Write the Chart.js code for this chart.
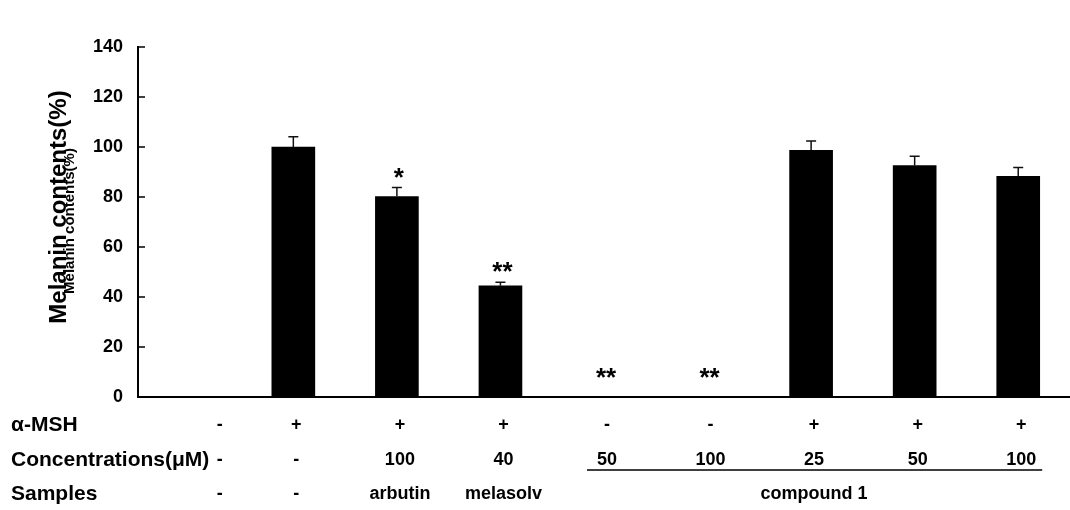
<!DOCTYPE html>
<html>
<head>
<meta charset="utf-8">
<script src="https://cdn.jsdelivr.net/npm/chart.js@4"></script>
<style>
  body { margin: 0; background: #fff; }
  #wrap { width: 1070px; height: 510px; position: relative; }
</style>
</head>
<body>
<div id="wrap"><canvas id="myChart"></canvas></div>
<script>
// data
const categories = ['ctrl', 'MSH', 'arbutin', 'melasolv', 'c1-50', 'c1-100', 'c1-25+', 'c1-50+', 'c1-100+'];
const melanin = [0, 100, 80.2, 44.5, 0, 0, 98.7, 92.6, 88.3];
const errors = [0, 4.1, 3.6, 1.4, 0, 0, 3.7, 3.7, 3.5];
const stars = ['', '', '*', '**', '**', '**', '', '', ''];
const yTicks = [0, 20, 40, 60, 80, 100, 120, 140];

// table rows under the chart
const mshRow = ['-', '+', '+', '+', '-', '-', '+', '+', '+'];
const concRow = ['-', '-', '100', '40', '50', '100', '25', '50', '100'];
const sampleRow = ['-', '-', 'arbutin', 'melasolv', '', '', 'compound 1', '', ''];

const FONT = '"Liberation Sans", Arial, sans-serif';

// error bars, stars, inner y ticks, titles and the table
const extras = {
  id: 'extras',
  afterDatasetsDraw(chart) {
    const ctx = chart.ctx;
    const y = chart.scales.y;
    const meta = chart.getDatasetMeta(0);
    ctx.save();
    ctx.strokeStyle = '#111';
    ctx.lineWidth = 1.5;
    meta.data.forEach((bar, i) => {
      if (!errors[i]) return;
      const top = y.getPixelForValue(melanin[i] + errors[i]);
      const base = y.getPixelForValue(melanin[i]);
      ctx.beginPath();
      ctx.moveTo(bar.x, base);
      ctx.lineTo(bar.x, top);
      ctx.moveTo(bar.x - 5, top);
      ctx.lineTo(bar.x + 5, top);
      ctx.stroke();
    });
    ctx.fillStyle = '#000';
    ctx.font = 'bold 26px ' + FONT;
    ctx.textAlign = 'center';
    ctx.textBaseline = 'middle';
    meta.data.forEach((bar, i) => {
      if (!stars[i]) return;
      const top = y.getPixelForValue(melanin[i] + errors[i]);
      const sy = Math.min(top - 9, y.getPixelForValue(0) - 18);
      ctx.fillText(stars[i], bar.x + 2, sy);
    });
    ctx.restore();
  },
  afterDraw(chart) {
    const ctx = chart.ctx;
    const x = chart.scales.x;
    const y = chart.scales.y;
    const area = chart.chartArea;
    ctx.save();
    // y ticks pointing inward
    ctx.strokeStyle = '#000';
    ctx.lineWidth = 1.5;
    yTicks.forEach(v => {
      const py = y.getPixelForValue(v);
      ctx.beginPath();
      ctx.moveTo(area.left, py);
      ctx.lineTo(area.left + 7, py);
      ctx.stroke();
    });

    // overlapping axis titles
    ctx.fillStyle = '#000';
    ctx.textAlign = 'center';
    ctx.textBaseline = 'middle';
    ctx.save();
    ctx.translate(59, 207);
    ctx.rotate(-Math.PI / 2);
    ctx.font = 'bold 24px ' + FONT;
    ctx.fillText('Melanin contents(%)', 0, 0);
    ctx.restore();
    ctx.save();
    ctx.translate(70, 221);
    ctx.rotate(-Math.PI / 2);
    ctx.font = 'bold 15px ' + FONT;
    ctx.fillText('Melanin contents(%)', 0, 0);
    ctx.restore();

    // table
    const colX = i => i === 0 ? x.getPixelForValue(0) + 30 : x.getPixelForValue(i) + 3;
    ctx.font = 'bold 21px ' + FONT;
    ctx.textAlign = 'left';
    ctx.fillText('\u03b1-MSH', 11, 425);
    ctx.fillText('Concentrations(\u03bcM)', 11, 460);
    ctx.fillText('Samples', 11, 494);
    ctx.font = 'bold 18px ' + FONT;
    ctx.textAlign = 'center';
    mshRow.forEach((t, i) => ctx.fillText(t, colX(i), 425));
    concRow.forEach((t, i) => ctx.fillText(t, colX(i), 460));
    sampleRow.forEach((t, i) => { if (t) ctx.fillText(t, colX(i), 494); });
    ctx.lineWidth = 1.5;
    ctx.beginPath();
    ctx.moveTo(x.getPixelForValue(4) - 17, 470);
    ctx.lineTo(x.getPixelForValue(8) + 24, 470);
    ctx.stroke();
    ctx.restore();
  }
};

const ctx = document.getElementById('myChart').getContext('2d');

const myChart = new Chart(ctx, {
  type: 'bar',
  data: {
    labels: categories,
    datasets: [{
      data: melanin,
      backgroundColor: '#000',
      borderWidth: 0,
      barThickness: 43,
    }]
  },
  options: {
    responsive: true,
    maintainAspectRatio: false,
    animation: false,
    layout: { padding: { top: 47, bottom: 113, left: 0, right: 0 } },
    plugins: { legend: { display: false }, tooltip: { enabled: false } },
    scales: {
      x: {
        grid: { display: false, drawTicks: false },
        border: { color: '#000', width: 2 },
        ticks: { display: false },
        afterFit(scale) { scale.height = 0; }
      },
      y: {
        min: 0,
        max: 140,
        grid: { display: false, drawTicks: false },
        border: { color: '#000', width: 2 },
        ticks: {
          stepSize: 20,
          padding: 15,
          color: '#000',
          font: { family: FONT, size: 18, weight: 'bold' }
        },
        afterFit(scale) { scale.width = 138; }
      }
    }
  },
  plugins: [extras]
});
</script>
</body>
</html>
